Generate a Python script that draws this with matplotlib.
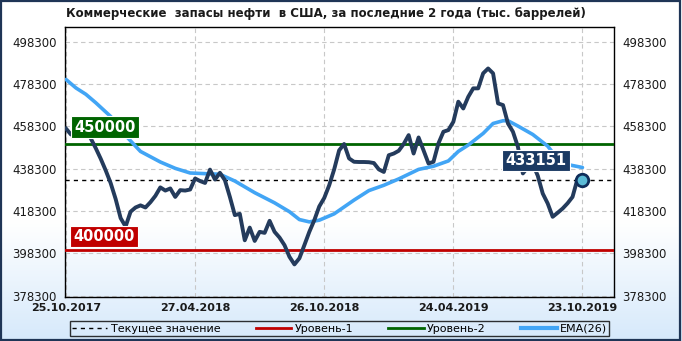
import numpy as np
import matplotlib
matplotlib.use("Agg")
import matplotlib.pyplot as plt
from matplotlib.lines import Line2D
from matplotlib.patches import Rectangle
from matplotlib.colors import LinearSegmentedColormap

plt.rcParams['font.family'] = ['DejaVu Sans']

# данные (тыс. баррелей), недельные значения
stocks = [457.3, 454.5, 456.0, 458.0, 456.5, 452.6, 448.0, 443.0, 437.5, 431.5,
          424.0, 415.0, 411.0, 418.0, 420.0, 421.0, 420.0, 422.5, 425.5, 429.5,
          428.0, 429.0, 425.0, 428.2, 428.0, 428.5, 433.7, 432.5, 431.6, 437.9,
          433.2, 436.4, 432.9, 425.0, 416.4, 417.0, 404.5, 410.5, 404.2, 408.5,
          408.0, 413.7, 408.5, 405.8, 402.2, 396.7, 393.1, 396.0, 402.2, 408.5,
          414.0, 420.5, 424.5, 430.5, 438.0, 447.0, 450.0, 443.2, 441.6, 441.5,
          441.5, 441.4, 441.0, 438.0, 436.8, 444.7, 445.5, 446.8, 450.0, 454.2,
          445.5, 453.1, 447.0, 440.8, 441.6, 450.3, 455.8, 456.6, 460.5, 470.0,
          466.8, 472.3, 476.3, 476.3, 483.4, 485.7, 483.4, 469.2, 468.4, 459.7,
          455.8, 448.7, 436.1, 439.0, 440.5, 435.0, 426.6, 421.9, 415.6, 417.5,
          419.5, 422.0, 425.0, 433.5, 433.151]
stocks = [v * 1000 for v in stocks]

ema_weeks = [0, 2, 4, 6, 9, 12, 15, 19, 22, 25, 28, 31, 34, 38, 42, 45, 47, 49, 51,
             54, 58, 61, 64, 67, 71, 74, 77, 79, 81, 84, 86, 88, 89, 91, 94, 97, 98,
             100, 101, 104]
ema_vals = [480.5, 476.5, 473.5, 469.5, 463.0, 454.0, 446.5, 441.5, 438.5, 436.3,
            436.0, 435.7, 432.5, 427.0, 422.2, 418.0, 414.3, 413.2, 414.0, 417.0,
            423.5, 428.0, 430.5, 433.5, 438.0, 439.5, 442.0, 446.5, 449.5, 455.0,
            459.7, 461.0, 461.0, 458.5, 454.5, 449.0, 446.0, 441.0, 440.3, 438.9]
ema_vals = [v * 1000 for v in ema_vals]

tick_weeks = [0, 26, 52, 78, 104]
tick_labels = ['25.10.2017', '27.04.2018', '26.10.2018', '24.04.2019', '23.10.2019']
y_ticks = [378300, 398300, 418300, 438300, 458300, 478300, 498300]

level1 = 400000
level2 = 450000
current = stocks[-1]

W, H = 682, 341
fig = plt.figure(figsize=(W / 100, H / 100), dpi=100)

# фон с градиентом
bg = fig.add_axes([0, 0, 1, 1], zorder=-10)
cmap = LinearSegmentedColormap.from_list('bg', [(0, '#d6e9fb'), (0.35, '#ffffff'), (1, '#ffffff')])
grad = np.linspace(0, 1, 256).reshape(-1, 1)
bg.imshow(grad, aspect='auto', cmap=cmap, origin='lower', extent=[0, 1, 0, 1])
bg.set_xlim(0, 1)
bg.set_ylim(0, 1)
bg.axis('off')
bg.add_patch(Rectangle((0.002, 0.003), 0.995, 0.994, fill=False, edgecolor='#1f3556',
                       linewidth=1.6, transform=bg.transAxes))

ax = fig.add_axes([65 / W, (H - 297) / H, 549 / W, 270 / H])
ax.set_facecolor('none')

x = np.arange(len(stocks))
ax.axhline(level1, color='#c00000', lw=2, zorder=3)
ax.axhline(level2, color='#006400', lw=2, zorder=3)
ax.axhline(current, color='black', lw=1, ls=(0, (3, 3)), zorder=3)
ax.plot(ema_weeks, ema_vals, color='#42a5f5', lw=2.6, zorder=4, solid_capstyle='round')
ax.plot(x, stocks, color='#243b5c', lw=2.8, zorder=5, solid_joinstyle='round')
ax.plot(x[-1], current, 'o', ms=9, mfc='#5bbbd6', mec='#0f2d5a', mew=2, zorder=6)

ax.set_xlim(-0.2, 110.35)
ax.set_ylim(377700, 505300)
ax.set_xticks(tick_weeks)
ax.set_xticklabels(tick_labels, fontsize=8, fontweight='bold', color='#1a1a1a')
ax.set_yticks(y_ticks)
ax.set_yticklabels([str(v) for v in y_ticks], fontsize=8.5, color='#1a1a1a')
ax.tick_params(axis='both', length=0, pad=4)
ax.tick_params(axis='y', labelright=True, pad=6)
ax.grid(True, color='#c8c8c8', ls=(0, (4, 3)), lw=0.8)
for s in ax.spines.values():
    s.set_color('black')
    s.set_linewidth(1)

# подписи уровней
box = dict(boxstyle='square,pad=0.22', ec='white', lw=0.8)
ax.text(7.9, 458000, '450000', color='white', fontsize=10.5, fontweight='bold',
        ha='center', va='center', bbox=dict(box, fc='#006400'), zorder=7)
ax.text(7.7, 406400, '400000', color='white', fontsize=10.5, fontweight='bold',
        ha='center', va='center', bbox=dict(box, fc='#c00000'), zorder=7)
ax.text(94.6, 442100, '433151', color='white', fontsize=10.5, fontweight='bold',
        ha='center', va='center', bbox=dict(box, fc='#1b3a63'), zorder=7)

fig.text(326 / W, 1 - 14 / H, 'Коммерческие  запасы нефти  в США, за последние 2 года (тыс. баррелей)',
         ha='center', va='center', fontsize=8.5, fontweight='bold', color='#1a1a1a')

handles = [Line2D([], [], color='black', lw=1, ls=(0, (3, 3))),
           Line2D([], [], color='#c00000', lw=2),
           Line2D([], [], color='#006400', lw=2),
           Line2D([], [], color='#42a5f5', lw=3)]
labels = ['Текущее значение', 'Уровень-1', 'Уровень-2', 'EMA(26)']
leg = fig.legend(handles, labels, loc='center', ncol=4, mode='expand',
                 bbox_to_anchor=(64 / W, 3 / H, 551 / W, 19 / H), fontsize=8,
                 frameon=True, fancybox=False, edgecolor='black', handlelength=3.2,
                 handletextpad=0.3, borderpad=0.2, columnspacing=1.0)
leg.get_frame().set_linewidth(1)
leg.get_frame().set_facecolor('none')

fig.savefig('out.png', dpi=100)
